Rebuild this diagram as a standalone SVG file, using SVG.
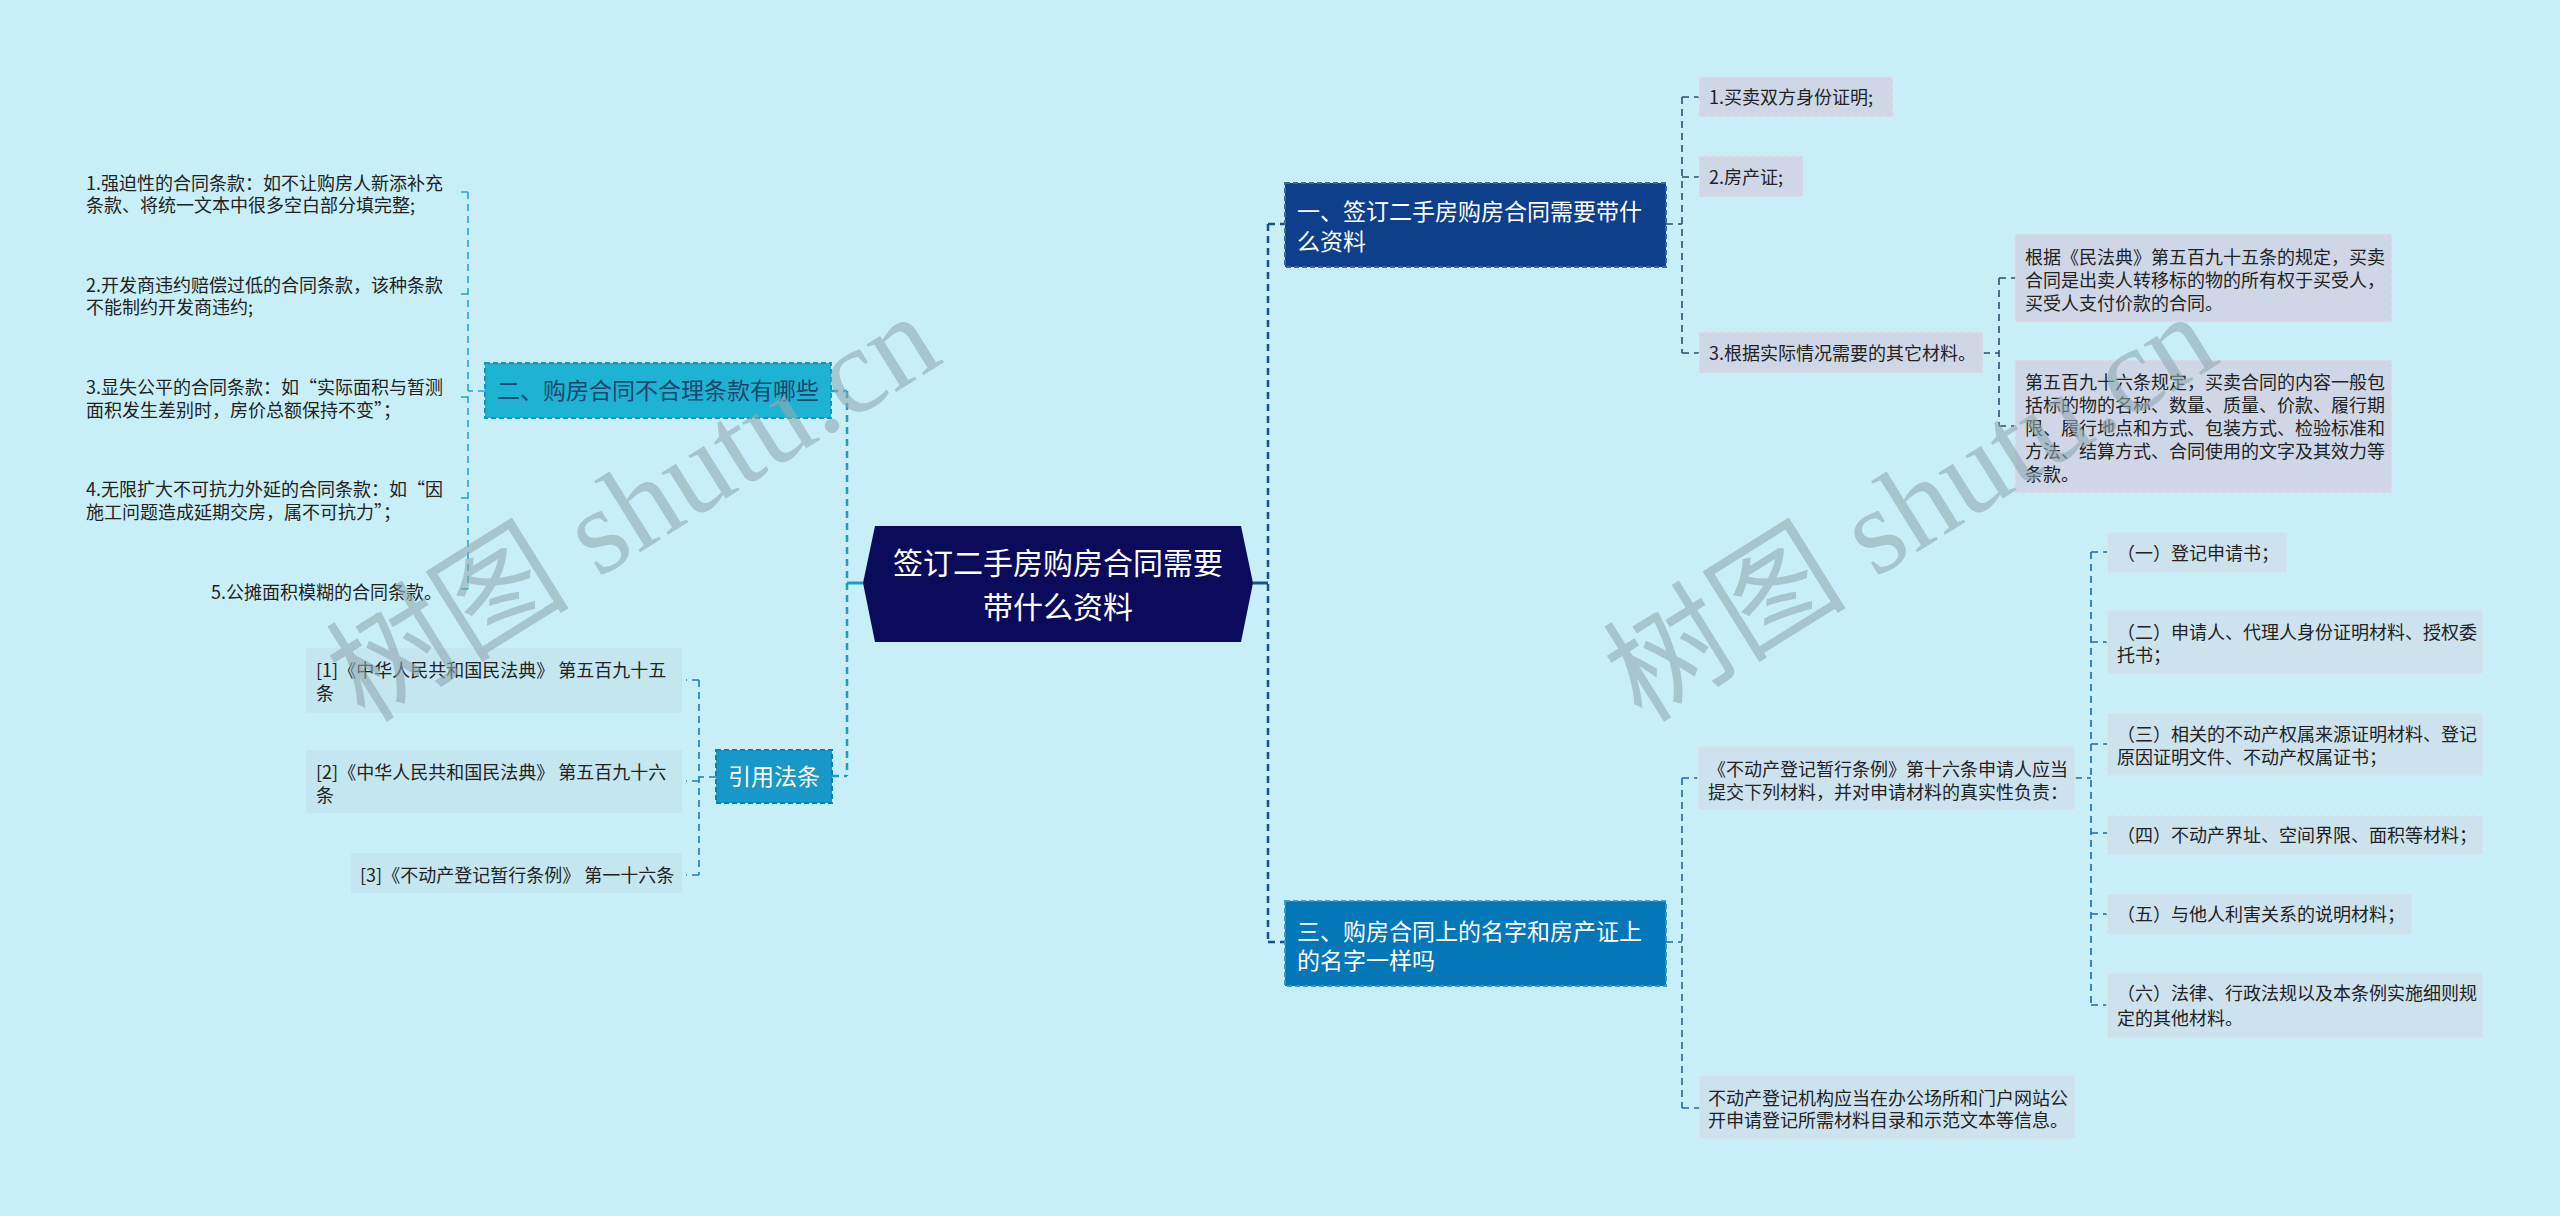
<svg xmlns="http://www.w3.org/2000/svg" width="2560" height="1216" viewBox="0 0 2560 1216">
<defs>
<style>
text{font-family:"Noto Sans CJK SC","Noto Sans",sans-serif;}
.leaf{font-size:18px;fill:#222222;}
.l1{font-size:23px;fill:#ffffff;}
.root{font-size:30px;fill:#ffffff;}
.box1{fill:#cfd7e6;stroke:#dde3ee;stroke-width:1.5;stroke-dasharray:5 3;}
.box3{fill:#cce3ee;stroke:#d8eaf2;stroke-width:1.5;stroke-dasharray:5 3;}
.boxr{fill:#c3e6ef;}
.c{fill:none;stroke-dasharray:7 5;}
.cr{stroke:#17508a;stroke-width:2.5;}
.c1{stroke:#2f4d6e;stroke-width:1.6;}
.c3{stroke:#1e6ba0;stroke-width:1.6;}
.cl{stroke:#1e9cc0;stroke-width:2.5;}
.c2{stroke:#26a6c8;stroke-width:1.6;}
.cf{stroke:#1a80aa;stroke-width:1.6;}
.wm{font-family:"Liberation Serif","Noto Sans CJK SC",serif;font-size:122px;fill:#8fa9b0;fill-opacity:0.6;}
</style>
</defs>
<rect x="0" y="0" width="2560" height="1216" fill="#c8eff7"/>

<g id="connectors">
  <line x1="1253" y1="583" x2="1268" y2="583" stroke="#17508a" stroke-width="3"/>
  <path class="c cr" d="M1268 224 V942 M1268 224 H1285 M1268 942 H1285"/>
  <path class="c c1" d="M1666 224 H1682 M1682 97 V353 M1682 97 H1699 M1682 177 H1699 M1682 353 H1699"/>
  <path class="c c1" d="M1983 353 H1999 M1999 278 V426 M1999 278 H2015 M1999 426 H2015"/>
  <path class="c c3" d="M1666 942 H1682 M1682 778 V1108 M1682 778 H1698 M1682 1108 H1699"/>
  <path class="c c3" d="M2075 778 H2091 M2091 552 V1005 M2091 552 H2107 M2091 642 H2107 M2091 744 H2107 M2091 833 H2107 M2091 914 H2107 M2091 1005 H2107"/>
  <line x1="847" y1="583" x2="863" y2="583" stroke="#1e9cc0" stroke-width="3"/>
  <path class="c cl" d="M847 391 V776 M831 391 H847 M832 776 H847"/>
  <path class="c c2" d="M485 391 H468 M468 192 V589 M468 192 H456 M468 294 H456 M468 397 H456 M468 498 H456 M468 589 H456"/>
  <path class="c cf" d="M716 777 H699 M699 680 V875 M699 680 H686 M699 781 H686 M699 875 H686"/>
</g>

<g id="root">
  <polygon points="875,526 1241,526 1253,583 1241,642 875,642 863,583" fill="#0b0b5c"/>
  <text class="root" x="1058" y="574" text-anchor="middle">签订二手房购房合同需要</text>
  <text class="root" x="1058" y="618" text-anchor="middle">带什么资料</text>
</g>

<g id="node-1">
  <rect x="1285" y="183" width="381" height="84" fill="#0e3f8b" stroke="#3b67a8" stroke-width="2" stroke-dasharray="5 3"/>
  <text class="l1" x="1297" y="220">一、签订二手房购房合同需要带什</text>
  <text class="l1" x="1297" y="250">么资料</text>
</g>
<g id="node-1-1">
  <rect class="box1" x="1699" y="77" width="194" height="40"/>
  <text class="leaf" x="1709" y="103.5">1.买卖双方身份证明;</text>
</g>
<g id="node-1-2">
  <rect class="box1" x="1699" y="156" width="104" height="41"/>
  <text class="leaf" x="1709" y="183.5">2.房产证;</text>
</g>
<g id="node-1-3">
  <rect class="box1" x="1699" y="332" width="284" height="41"/>
  <text class="leaf" x="1709" y="359.5">3.根据实际情况需要的其它材料。</text>
</g>
<g id="node-1-3-1">
  <rect class="box1" x="2015" y="234" width="377" height="88"/>
  <text class="leaf" x="2025" y="263.5">根据《民法典》第五百九十五条的规定，买卖</text>
  <text class="leaf" x="2025" y="286.5">合同是出卖人转移标的物的所有权于买受人，</text>
  <text class="leaf" x="2025" y="309.5">买受人支付价款的合同。</text>
</g>
<g id="node-1-3-2">
  <rect class="box1" x="2015" y="360" width="377" height="133"/>
  <text class="leaf" x="2025" y="388.5">第五百九十六条规定，买卖合同的内容一般包</text>
  <text class="leaf" x="2025" y="411.5">括标的物的名称、数量、质量、价款、履行期</text>
  <text class="leaf" x="2025" y="434.5">限、履行地点和方式、包装方式、检验标准和</text>
  <text class="leaf" x="2025" y="457.5">方法、结算方式、合同使用的文字及其效力等</text>
  <text class="leaf" x="2025" y="480.5">条款。</text>
</g>

<g id="node-3">
  <rect x="1285" y="901" width="381" height="85" fill="#0477b8" stroke="#3a98cf" stroke-width="2" stroke-dasharray="5 3"/>
  <text class="l1" x="1297" y="940">三、购房合同上的名字和房产证上</text>
  <text class="l1" x="1297" y="969">的名字一样吗</text>
</g>
<g id="node-3-1">
  <rect class="box3" x="1698" y="746" width="377" height="64"/>
  <text class="leaf" x="1708" y="775.5">《不动产登记暂行条例》第十六条申请人应当</text>
  <text class="leaf" x="1708" y="798.5">提交下列材料，并对申请材料的真实性负责：</text>
</g>
<g id="node-3-1-1">
  <rect class="box3" x="2107" y="532" width="180" height="41"/>
  <text class="leaf" x="2117" y="559.5">（一）登记申请书；</text>
</g>
<g id="node-3-1-2">
  <rect class="box3" x="2107" y="610" width="376" height="64"/>
  <text class="leaf" x="2117" y="638.5">（二）申请人、代理人身份证明材料、授权委</text>
  <text class="leaf" x="2117" y="661.5">托书；</text>
</g>
<g id="node-3-1-3">
  <rect class="box3" x="2107" y="713" width="376" height="63"/>
  <text class="leaf" x="2117" y="740.5">（三）相关的不动产权属来源证明材料、登记</text>
  <text class="leaf" x="2117" y="763.5">原因证明文件、不动产权属证书；</text>
</g>
<g id="node-3-1-4">
  <rect class="box3" x="2107" y="815" width="376" height="40"/>
  <text class="leaf" x="2117" y="841.5">（四）不动产界址、空间界限、面积等材料；</text>
</g>
<g id="node-3-1-5">
  <rect class="box3" x="2107" y="894" width="305" height="41"/>
  <text class="leaf" x="2117" y="921">（五）与他人利害关系的说明材料；</text>
</g>
<g id="node-3-1-6">
  <rect class="box3" x="2107" y="973" width="376" height="65"/>
  <text class="leaf" x="2117" y="1000">（六）法律、行政法规以及本条例实施细则规</text>
  <text class="leaf" x="2117" y="1024.5">定的其他材料。</text>
</g>
<g id="node-3-2">
  <rect class="box3" x="1699" y="1075" width="376" height="64"/>
  <text class="leaf" x="1708" y="1104.5">不动产登记机构应当在办公场所和门户网站公</text>
  <text class="leaf" x="1708" y="1127">开申请登记所需材料目录和示范文本等信息。</text>
</g>

<g id="node-2">
  <rect x="485" y="363" width="346" height="55" fill="#1fb3d3" stroke="#1394b8" stroke-width="2" stroke-dasharray="5 3"/>
  <text x="497" y="399" style="font-size:23px;fill:#17476c;">二、购房合同不合理条款有哪些</text>
</g>
<g id="node-2-1">
  <text class="leaf" x="86" y="189.5">1.强迫性的合同条款：如不让购房人新添补充</text>
  <text class="leaf" x="86" y="211.5">条款、将统一文本中很多空白部分填完整;</text>
</g>
<g id="node-2-2">
  <text class="leaf" x="86" y="291.5">2.开发商违约赔偿过低的合同条款，该种条款</text>
  <text class="leaf" x="86" y="313.5">不能制约开发商违约;</text>
</g>
<g id="node-2-3">
  <text class="leaf" x="86" y="393.5">3.显失公平的合同条款：如“实际面积与暂测</text>
  <text class="leaf" x="86" y="416.5">面积发生差别时，房价总额保持不变”；</text>
</g>
<g id="node-2-4">
  <text class="leaf" x="86" y="495.5">4.无限扩大不可抗力外延的合同条款：如“因</text>
  <text class="leaf" x="86" y="518.5">施工问题造成延期交房，属不可抗力”；</text>
</g>
<g id="node-2-5">
  <text class="leaf" x="442" y="598.5" text-anchor="end">5.公摊面积模糊的合同条款。</text>
</g>

<g id="node-refs">
  <rect x="716" y="750" width="116" height="53" fill="#1798c8" stroke="#0f7fb0" stroke-width="2" stroke-dasharray="5 3"/>
  <text class="l1" x="728" y="785">引用法条</text>
</g>
<g id="node-ref-1">
  <rect class="boxr" x="306" y="648" width="376" height="65"/>
  <text class="leaf" x="316" y="676.5">[1]《中华人民共和国民法典》 第五百九十五</text>
  <text class="leaf" x="316" y="699.5">条</text>
</g>
<g id="node-ref-2">
  <rect class="boxr" x="306" y="750" width="376" height="63"/>
  <text class="leaf" x="316" y="778.5">[2]《中华人民共和国民法典》 第五百九十六</text>
  <text class="leaf" x="316" y="801.5">条</text>
</g>
<g id="node-ref-3">
  <rect class="boxr" x="351" y="853" width="331" height="40"/>
  <text class="leaf" x="360" y="881.5">[3]《不动产登记暂行条例》 第一十六条</text>
</g>

<g id="watermark">
  <text class="wm" transform="translate(365,724) rotate(-32)">树图 shutu.cn</text>
  <text class="wm" transform="translate(1642,724) rotate(-32)">树图 shutu.cn</text>
</g>
</svg>
